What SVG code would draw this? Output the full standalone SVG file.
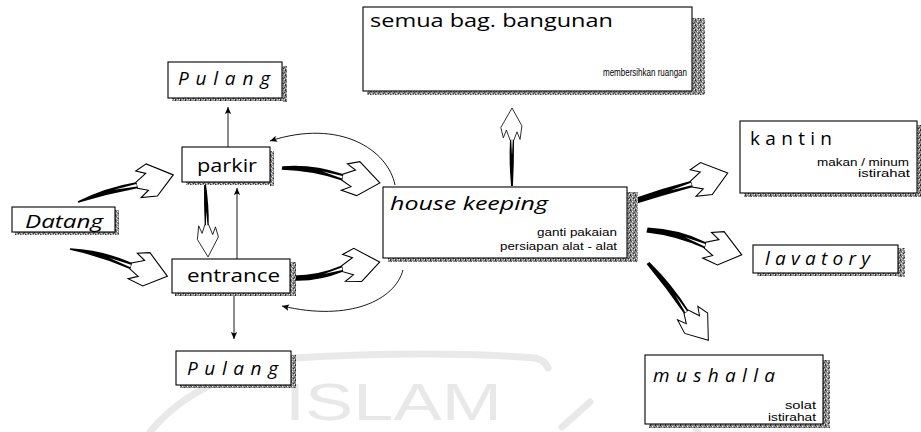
<svg xmlns="http://www.w3.org/2000/svg" xmlns:xlink="http://www.w3.org/1999/xlink" width="921" height="432" viewBox="0 0 921 432">
  <style>
    .box { fill: #fff; stroke: #000; stroke-width: 1.1; }
    .shd { fill: url(#grain); }
    .ttl { font-family: "Open Sans", "DejaVu Sans", sans-serif; font-size: 19px; fill: #000; }
    .it { font-style: italic; }
    .sub { font-family: "Liberation Sans", "Noto Sans", sans-serif; font-size: 11px; fill: #000; }
    .thin { fill: none; stroke: #000; stroke-width: 0.9; }
    .head { fill: #fff; stroke: #000; stroke-width: 1.1; stroke-linejoin: miter; }
    .tail { fill: #000; }
    .wm { fill: none; stroke: #e9e9e9; stroke-width: 7; stroke-linecap: round; }
  </style>
  <defs>
    <pattern id="grain" width="5" height="5" patternUnits="userSpaceOnUse">
      <rect width="5" height="5" fill="#8e8e8e"/>
      <rect x="0" y="0" width="1" height="1" fill="#222"/>
      <rect x="2" y="1" width="1" height="1" fill="#f2f2f2"/>
      <rect x="3" y="3" width="1" height="1" fill="#333"/>
      <rect x="1" y="3" width="1" height="1" fill="#d8d8d8"/>
      <rect x="4" y="2" width="1" height="1" fill="#444"/>
      <rect x="1" y="1" width="1" height="1" fill="#555"/>
      <rect x="4" y="4" width="1" height="1" fill="#eee"/>
      <rect x="0" y="4" width="1" height="1" fill="#3a3a3a"/>
      <rect x="2" y="4" width="1" height="1" fill="#bbb"/>
    </pattern>
    <marker id="tri" viewBox="0 0 10 10" refX="10" refY="5" markerWidth="8" markerHeight="7" markerUnits="userSpaceOnUse" orient="auto">
      <path d="M0,0.5 L10,5 L0,9.5 L2,5 Z" fill="#000"/>
    </marker>
    <!-- hollow jagged arrowhead, tip at the origin, pointing along +x -->
    <path id="head" class="head" d="M0,0 L-23,-18 L-35,-14 L-26,-9 L-38,-3 L-38,3 L-28,8 L-37,13 L-21,16 Z"/>
  </defs>

  <!-- faint emblem in the background -->
  <g id="emblem">
    <path class="wm" d="M150,432 Q180,395 232,376"/>
    <path class="wm" d="M293,358 Q430,350 535,358 Q545,360 548,368"/>
    <path class="wm" d="M562,427 L590,402"/>
    <path class="wm" d="M698,432 Q680,402 655,388"/>
    <text x="285" y="420" textLength="217" lengthAdjust="spacingAndGlyphs" font-family="Liberation Sans, Arial, sans-serif" font-size="52" fill="#e8e8e8">ISLAM</text>
  </g>

  <!-- connectors -->
  <g id="connectors">
    <!-- thin arrows -->
    <line class="thin" x1="228" y1="147" x2="228" y2="107" marker-end="url(#tri)"/>
    <line class="thin" x1="234" y1="293" x2="234" y2="339" marker-end="url(#tri)"/>
    <line class="thin" x1="237" y1="259" x2="237" y2="188" marker-end="url(#tri)"/>
    <path class="thin" d="M395,185 C388,150 340,118 270,141" marker-end="url(#tri)"/>
    <path class="thin" d="M403,270 C395,300 350,322 282,306" marker-end="url(#tri)"/>

    <!-- swoosh arrows: tapered tail + hollow head -->
    <g id="datang-parkir" transform="translate(78,202) rotate(-15.9)">
      <use xlink:href="#head" href="#head" transform="translate(99,0)"/>
      <path class="tail" d="M0,-0.8 Q31,-6.5 61,-3.2 L61,3.2 Q31,0.5 0,0.8 Z"/>
      <path fill="#fff" d="M61,-1.3 L38,-1.8 L61,1.3 Z"/>
    </g>
    <g id="datang-entrance" transform="translate(70,249) rotate(15.6)">
      <use xlink:href="#head" href="#head" transform="translate(101,0)"/>
      <path class="tail" d="M0,-0.8 Q32,-8 63,-3.2 L63,3.2 Q32,-1 0,0.8 Z"/>
      <path fill="#fff" d="M63,-1.3 L40,-2.2 L63,1.3 Z"/>
    </g>
    <g id="parkir-hk" transform="translate(282,168) rotate(8.7)">
      <use xlink:href="#head" href="#head" transform="translate(99,0)"/>
      <path class="tail" d="M0,-1.8 Q30,-9 61,-3.2 L61,3.2 Q30,-2 0,1.8 Z"/>
      <path fill="#fff" d="M61,-1.3 L40,-2.8 L61,1.3 Z"/>
    </g>
    <g id="entrance-hk" transform="translate(290,278) rotate(-10.1)">
      <use xlink:href="#head" href="#head" transform="translate(91,0)"/>
      <path class="tail" d="M0,-2.6 Q26,3 53,-3.2 L53,3.2 Q26,9 0,2.6 Z"/>
      <path fill="#fff" d="M53,-1.3 L34,2 L53,1.3 Z"/>
    </g>
    <g id="hk-semua" transform="translate(512,186) rotate(-90)">
      <use xlink:href="#head" href="#head" transform="translate(78,0) scale(0.85,0.62)"/>
      <path class="tail" d="M0,-0.9 Q24,-3.2 46,-2 L46,2 Q24,2.2 0,0.9 Z"/>
      <path fill="#fff" d="M46,-0.8 L31,0 L46,0.8 Z"/>
    </g>
    <g id="hk-kantin" transform="translate(632,202) rotate(-16.8)">
      <use xlink:href="#head" href="#head" transform="translate(100,0)"/>
      <path class="tail" d="M0,-2.8 Q31,-4.5 62,-3.2 L62,3.2 Q31,2.5 0,2.8 Z"/>
      <path fill="#fff" d="M62,-1.3 L40,0 L62,1.3 Z"/>
    </g>
    <g id="hk-lavatory" transform="translate(647,230) rotate(14.7)">
      <use xlink:href="#head" href="#head" transform="translate(98,0)"/>
      <path class="tail" d="M0,-2.5 Q30,-9 60,-3.2 L60,3.2 Q30,-2 0,2.5 Z"/>
      <path fill="#fff" d="M60,-1.3 L38,-2.8 L60,1.3 Z"/>
    </g>
    <g id="hk-mushalla" transform="translate(648,263) rotate(52)">
      <use xlink:href="#head" href="#head" transform="translate(98,0) scale(0.95,0.9)"/>
      <path class="tail" d="M0,-1.8 Q32,-6 62,-2.8 L62,2.8 Q32,1 0,1.8 Z"/>
      <path fill="#fff" d="M62,-1.1 L42,-1.8 L62,1.1 Z"/>
    </g>
    <g id="parkir-entrance" transform="translate(205,184) rotate(87.6)">
      <use xlink:href="#head" href="#head" transform="translate(73,0) scale(0.85,0.62)"/>
      <path class="tail" d="M0,-0.9 Q22,-3.2 41,-2 L41,2 Q22,2.2 0,0.9 Z"/>
      <path fill="#fff" d="M41,-0.8 L27,0 L41,0.8 Z"/>
    </g>
  </g>

  <!-- nodes -->
  <g id="pulang-top">
    <rect class="shd" x="282" y="66" width="5" height="36"/>
    <rect class="shd" x="172" y="98" width="115" height="3"/>
    <rect class="box" x="168" y="62" width="114" height="36"/>
    <text class="ttl it" x="178" y="85" font-size="18" textLength="92" lengthAdjust="spacing">Pulang</text>
  </g>

  <g id="semua">
    <rect class="shd" x="692" y="18" width="13" height="77"/>
    <rect class="shd" x="367" y="91" width="338" height="4"/>
    <rect class="box" x="363" y="7" width="329" height="84"/>
    <text class="ttl" x="370" y="27" font-size="20" textLength="243" lengthAdjust="spacingAndGlyphs">semua bag. bangunan</text>
    <text class="sub" x="603" y="76" textLength="84" lengthAdjust="spacingAndGlyphs">membersihkan ruangan</text>
  </g>

  <g id="parkir">
    <rect class="shd" x="270" y="151" width="4" height="35"/>
    <rect class="shd" x="186" y="182" width="88" height="3"/>
    <rect class="box" x="182" y="147" width="88" height="35"/>
    <text class="ttl" x="197" y="172" font-size="20" textLength="60" lengthAdjust="spacingAndGlyphs">parkir</text>
  </g>

  <g id="datang">
    <rect class="shd" x="115" y="210" width="4" height="25"/>
    <rect class="shd" x="15" y="232" width="104" height="3"/>
    <rect class="box" x="12" y="207" width="103" height="25"/>
    <text class="ttl it" x="25" y="228" font-size="18" textLength="78" lengthAdjust="spacingAndGlyphs">Datang</text>
  </g>

  <g id="entrance">
    <rect class="shd" x="290" y="262" width="6" height="34"/>
    <rect class="shd" x="175" y="293" width="121" height="3"/>
    <rect class="box" x="172" y="259" width="118" height="34"/>
    <text class="ttl" x="187" y="282" font-size="20" textLength="93" lengthAdjust="spacingAndGlyphs">entrance</text>
  </g>

  <g id="pulang-bottom">
    <rect class="shd" x="291" y="355" width="5" height="33"/>
    <rect class="shd" x="180" y="385" width="116" height="3"/>
    <rect class="box" x="176" y="351" width="115" height="34"/>
    <text class="ttl it" x="187" y="375" font-size="18" textLength="91" lengthAdjust="spacing">Pulang</text>
  </g>

  <g id="house-keeping">
    <rect class="shd" x="627" y="192" width="11" height="70"/>
    <rect class="shd" x="388" y="258" width="250" height="4"/>
    <rect class="box" x="383" y="187" width="244" height="71"/>
    <text class="ttl it" x="390" y="210" font-size="21" textLength="158" lengthAdjust="spacingAndGlyphs">house keeping</text>
    <text class="sub" x="537" y="236" font-size="11.5" textLength="80" lengthAdjust="spacingAndGlyphs">ganti pakaian</text>
    <text class="sub" x="500" y="250" font-size="11.5" textLength="117" lengthAdjust="spacingAndGlyphs">persiapan alat - alat</text>
  </g>

  <g id="kantin">
    <rect class="shd" x="917" y="125" width="4" height="72"/>
    <rect class="shd" x="744" y="193" width="177" height="4"/>
    <rect class="box" x="740" y="121" width="177" height="72"/>
    <text class="ttl" x="750" y="145" font-size="19" textLength="82" lengthAdjust="spacing">kantin</text>
    <text class="sub" x="817" y="166" textLength="92" lengthAdjust="spacingAndGlyphs">makan / minum</text>
    <text class="sub" x="858" y="177" textLength="52" lengthAdjust="spacingAndGlyphs">istirahat</text>
  </g>

  <g id="lavatory">
    <rect class="shd" x="898" y="248" width="7" height="29"/>
    <rect class="shd" x="757" y="273" width="148" height="3"/>
    <rect class="box" x="753" y="245" width="145" height="28"/>
    <text class="ttl it" x="765" y="265" font-size="19" textLength="105" lengthAdjust="spacing">lavatory</text>
  </g>

  <g id="mushalla">
    <rect class="shd" x="823" y="360" width="7" height="68"/>
    <rect class="shd" x="649" y="424" width="181" height="4"/>
    <rect class="box" x="645" y="355" width="178" height="69"/>
    <text class="ttl it" x="653" y="382" font-size="19" textLength="122" lengthAdjust="spacing">mushalla</text>
    <text class="sub" x="785" y="409" textLength="31" lengthAdjust="spacingAndGlyphs">solat</text>
    <text class="sub" x="768" y="421" textLength="48" lengthAdjust="spacingAndGlyphs">istirahat</text>
  </g>
</svg>
